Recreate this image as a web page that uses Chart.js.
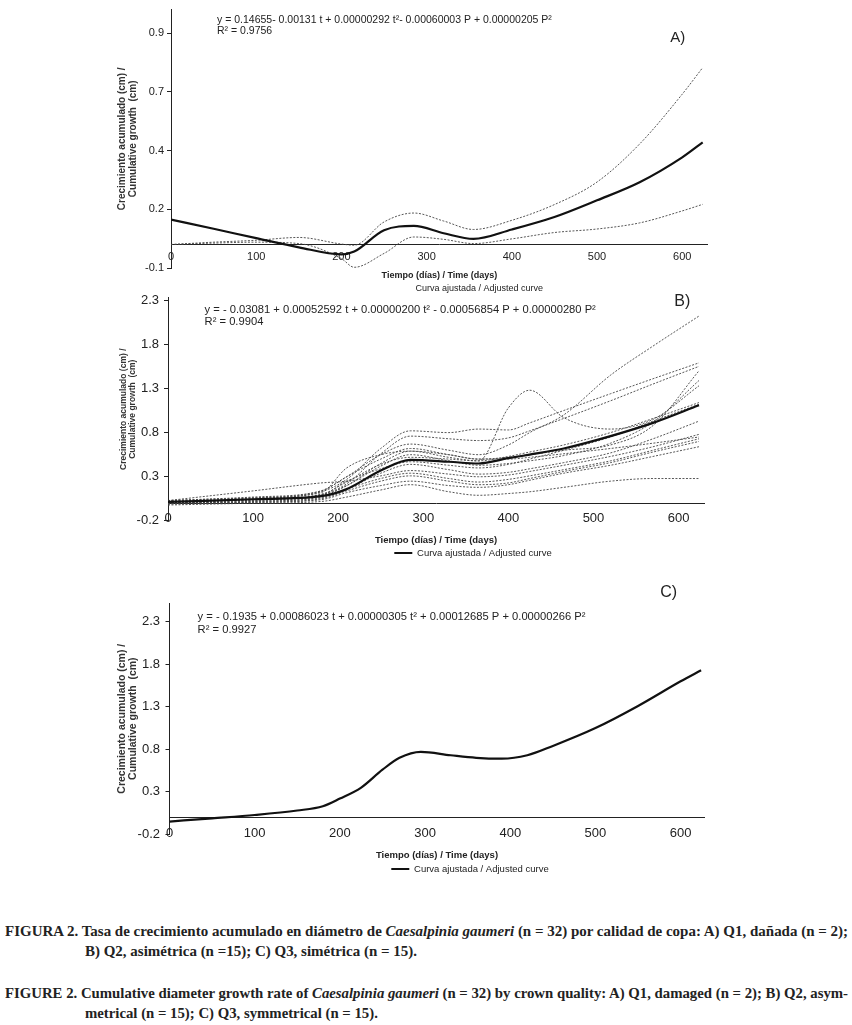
<!DOCTYPE html>
<html lang="es">
<head>
<meta charset="utf-8">
<title>Figura 2 - Caesalpinia gaumeri</title>
<script src="https://cdn.jsdelivr.net/npm/chart.js@4.4.1/dist/chart.umd.min.js"></script>
<style>
  html, body { margin: 0; padding: 0; background: #fff; }
  #figura { position: relative; width: 852px; height: 1025px; overflow: hidden; background: #fff; }
  #figura canvas { position: absolute; left: 0; }
  .pie { position: absolute; white-space: nowrap; font-family: "Liberation Serif", "DejaVu Serif", serif;
         font-weight: bold; font-size: 15px; line-height: 18px; color: #222; transform-origin: 0 50%; }
</style>
</head>
<body>
<div id="figura">
  <canvas id="graficaA" width="852" height="300"></canvas>
  <canvas id="graficaB" width="852" height="300"></canvas>
  <canvas id="graficaC" width="852" height="300"></canvas>
  <div class="pie" id="pie1" style="left:5px; top:922px">FIGURA 2. Tasa de crecimiento acumulado en diámetro de <i>Caesalpinia gaumeri</i> (n = 32) por calidad de copa: A) Q1, dañada (n = 2);</div>
  <div class="pie" id="pie2" style="left:85px; top:942px">B) Q2, asimétrica (n =15); C) Q3, simétrica (n = 15).</div>
  <div class="pie" id="pie3" style="left:5px; top:984px">FIGURE 2. Cumulative diameter growth rate of <i>Caesalpinia gaumeri</i> (n = 32) by crown quality: A) Q1, damaged (n = 2); B) Q2, asym-</div>
  <div class="pie" id="pie4" style="left:85px; top:1004px">metrical (n = 15); C) Q3, symmetrical (n = 15).</div>
</div>

<script>
// ---- Datos (días, crecimiento acumulado en cm) ----
const ticksX = [0, 100, 200, 300, 400, 500, 600];

// A) Q1, copa dañada (n = 2)
const diasA = [0, 50, 100, 150, 200, 215, 250, 285, 320, 355, 400, 450, 500, 550, 600, 624];
const ajustadaA = [0.106, 0.067, 0.027, -0.012, -0.042, -0.03, 0.061, 0.079, 0.048, 0.024, 0.064, 0.117, 0.188, 0.265, 0.371, 0.435];
const arbolA1 = [0.0, 0.01, 0.018, 0.03, 0.002, -0.003, 0.096, 0.134, 0.1, 0.064, 0.103, 0.17, 0.266, 0.428, 0.64, 0.753];
const arbolA2 = [0.0, 0.006, 0.01, 0.004, -0.06, -0.097, -0.038, 0.032, 0.022, 0.004, 0.024, 0.051, 0.066, 0.092, 0.143, 0.171];
const ticksYA = [-0.1, 0.15, 0.4, 0.65, 0.9];
const etiquetasYA = ['-0.1', '0.2', '0.4', '0.7', '0.9'];

// B) Q2, copa asimétrica (n = 15)
const diasB = [0, 100, 180, 210, 250, 285, 330, 365, 400, 425, 465, 520, 570, 624];
const ajustadaB = [0.015, 0.045, 0.08, 0.16, 0.37, 0.49, 0.47, 0.45, 0.51, 0.55, 0.62, 0.76, 0.91, 1.11];
const arbolB1 = [0.02, 0.06, 0.14, 0.30, 0.55, 0.67, 0.60, 0.55, 0.66, 0.80, 1.00, 1.45, 1.78, 2.12];
const arbolB2 = [0.01, 0.05, 0.13, 0.27, 0.62, 0.82, 0.80, 0.84, 0.83, 0.91, 1.05, 1.24, 1.41, 1.59];
const arbolB3 = [0.00, 0.04, 0.10, 0.22, 0.56, 0.76, 0.73, 0.71, 0.74, 0.82, 0.96, 1.16, 1.35, 1.55];
const arbolB4 = [0.02, 0.04, 0.09, 0.20, 0.45, 0.59, 0.52, 0.48, 1.08, 1.28, 0.97, 0.84, 0.95, 1.33];
const arbolB5 = [0.03, 0.07, 0.14, 0.30, 0.50, 0.62, 0.55, 0.50, 0.52, 0.55, 0.60, 0.66, 0.88, 1.50];
const arbolB6 = [0.00, 0.03, 0.08, 0.20, 0.42, 0.55, 0.48, 0.43, 0.45, 0.48, 0.54, 0.68, 0.92, 1.39];
const arbolB7 = [0.01, 0.04, 0.10, 0.24, 0.44, 0.52, 0.50, 0.48, 0.53, 0.58, 0.66, 0.80, 0.96, 1.14];
const arbolB8 = [0.00, 0.02, 0.07, 0.16, 0.34, 0.44, 0.38, 0.33, 0.35, 0.39, 0.46, 0.57, 0.73, 0.93];
const arbolB9 = [0.03, 0.14, 0.23, 0.25, 0.31, 0.37, 0.33, 0.30, 0.32, 0.36, 0.43, 0.53, 0.64, 0.78];
const arbolB10 = [0.00, 0.02, 0.06, 0.16, 0.28, 0.34, 0.28, 0.24, 0.27, 0.31, 0.38, 0.48, 0.60, 0.73];
const arbolB11 = [-0.01, 0.01, 0.05, 0.14, 0.25, 0.31, 0.25, 0.21, 0.23, 0.28, 0.36, 0.46, 0.58, 0.70];
const arbolB12 = [0.00, 0.01, 0.04, 0.12, 0.20, 0.25, 0.20, 0.18, 0.21, 0.26, 0.34, 0.43, 0.53, 0.64];
const arbolB13 = [-0.02, 0.00, 0.02, 0.07, 0.15, 0.21, 0.13, 0.09, 0.11, 0.13, 0.18, 0.25, 0.28, 0.28];
const arbolB14 = [0.01, 0.04, 0.09, 0.25, 0.39, 0.47, 0.43, 0.40, 0.44, 0.50, 0.60, 0.75, 0.93, 1.12];
const arbolB15 = [0.03, 0.06, 0.12, 0.40, 0.55, 0.59, 0.55, 0.50, 0.50, 0.52, 0.56, 0.62, 0.68, 0.75];
const arbolesB = [arbolB1, arbolB2, arbolB3, arbolB4, arbolB5, arbolB6, arbolB7, arbolB8,
                  arbolB9, arbolB10, arbolB11, arbolB12, arbolB13, arbolB14, arbolB15];

// C) Q3, copa simétrica (n = 15)
const diasC = [0, 50, 100, 150, 180, 200, 225, 250, 270, 295, 330, 360, 390, 420, 450, 500, 550, 600, 624];
const ajustadaC = [-0.05, -0.012, 0.027, 0.08, 0.13, 0.22, 0.35, 0.56, 0.70, 0.77, 0.73, 0.70, 0.69, 0.73, 0.84, 1.05, 1.31, 1.60, 1.73];

const ticksYBC = [-0.2, 0.3, 0.8, 1.3, 1.8, 2.3];
const etiquetasYBC = ['-0.2', '0.3', '0.8', '1.3', '1.8', '2.3'];

const LEYENDA = 'Curva ajustada / Adjusted curve';
const TITULO_Y = ['Crecimiento acumulado (cm) /', 'Cumulative growth  (cm)'];
const SANS = "'Liberation Sans', Arial, sans-serif";
const ESTRECHA = "'Liberation Sans Narrow', 'Liberation Sans', Arial, sans-serif";

// Textos sueltos dentro de cada panel (ecuación, R², letra del panel)
const textosPlugin = {
    id: 'textos',
    afterDraw(chart, args, opts) {
        const ctx = chart.ctx;
        const x = chart.scales.x, y = chart.scales.y;
        ctx.save();
        ctx.textBaseline = 'middle';
        ctx.textAlign = 'left';
        (opts.items || []).forEach(it => {
            ctx.font = it.font;
            ctx.fillStyle = '#222';
            ctx.fillText(it.text, x.getPixelForValue(it.x), y.getPixelForValue(it.y));
        });
        ctx.restore();
    }
};

function serie(dias, valores) {
    return dias.map((t, i) => ({ x: t, y: valores[i] }));
}

function curvaAjustada(dias, valores) {
    return { label: LEYENDA, data: serie(dias, valores), borderColor: '#111', backgroundColor: '#111', borderWidth: 2.2 };
}

function curvaArbol(dias, valores, n) {
    return { label: 'Árbol ' + n, data: serie(dias, valores), borderColor: '#444', borderWidth: 0.9, borderDash: [2, 1.5] };
}

// g: geometría del panel en píxeles de página (izquierda/derecha/arriba/abajo del área de trazado)
function crearPanel(idCanvas, g, datasets) {
    const canvas = document.getElementById(idCanvas);
    const altoLeyenda = g.leyendaFuente + g.leyendaPad + 10;
    const altoArea = g.abajo - g.arriba;
    const padArriba = g.arriba - g.top;
    const alto = Math.ceil(padArriba + altoArea + altoLeyenda);
    canvas.height = alto;
    canvas.style.top = g.top + 'px';

    // la leyenda se centra entre el relleno izquierdo y el borde derecho del lienzo
    const padIzq = 2 * g.centroLeyenda - canvas.width;
    const ceroPx = g.abajo - (0 - g.yMin) / (g.yMax - g.yMin) * altoArea;
    const lhTituloX = g.tituloXFuente * 1.2;
    const lhTituloY = g.tituloYFuente * g.tituloYInterlinea;

    new Chart(canvas, {
        type: 'line',
        data: { datasets: datasets },
        options: {
            responsive: false,
            animation: false,
            layout: { padding: { top: padArriba, left: padIzq, right: 0, bottom: alto - padArriba - altoArea - altoLeyenda } },
            elements: { point: { radius: 0 }, line: { cubicInterpolationMode: 'monotone' } },
            scales: {
                x: {
                    type: 'linear', min: 0, max: g.xMax,
                    position: { y: 0 },
                    afterBuildTicks: s => { s.ticks = ticksX.map(v => ({ value: v })); },
                    afterFit: s => { s.height = g.tituloX - ceroPx + lhTituloX / 2; },
                    grid: { display: false, drawTicks: false },
                    border: { display: true, color: '#222', width: 1 },
                    ticks: { padding: g.xTickPad, color: '#222', font: g.tickFuente, maxRotation: 0 },
                    title: { display: true, text: 'Tiempo (días) / Time (days)', color: '#222', padding: 0,
                             font: { family: ESTRECHA, size: g.tituloXFuente, weight: 'bold' } }
                },
                y: {
                    type: 'linear', min: g.yMin, max: g.yMax,
                    afterBuildTicks: s => { s.ticks = g.ticksY.map(v => ({ value: v })); },
                    afterFit: s => { s.width = g.izquierda - padIzq; },
                    grid: { display: true, drawOnChartArea: false, drawTicks: true, tickLength: 4, color: '#222' },
                    border: { display: true, color: '#222', width: 1 },
                    ticks: { padding: g.yTickPad, color: '#222', font: g.tickFuente, callback: (v, i) => g.etiquetasY[i] },
                    title: { display: true, text: TITULO_Y, color: '#333',
                             padding: { top: g.tituloYx - padIzq - lhTituloY / 2, bottom: 0 },
                             font: { family: SANS, size: g.tituloYFuente, weight: 'bold', lineHeight: g.tituloYInterlinea } }
                },
                // eje vacío a la derecha: deja el margen blanco del original
                margen: {
                    type: 'linear', position: 'right', display: true,
                    afterFit: s => { s.width = canvas.width - g.derecha; },
                    grid: { display: false }, border: { display: false }, ticks: { display: false }
                }
            },
            plugins: {
                legend: {
                    position: 'bottom',
                    labels: {
                        boxWidth: 18, boxHeight: 2, padding: g.leyendaPad, color: '#222',
                        font: { family: ESTRECHA, size: g.leyendaFuente },
                        filter: item => item.datasetIndex === 0,
                        generateLabels: chart => Chart.defaults.plugins.legend.labels.generateLabels(chart).map(l =>
                            Object.assign(l, { lineWidth: 0, fillStyle: g.muestra ? '#111' : 'rgba(0,0,0,0)' }))
                    }
                },
                tooltip: { enabled: false },
                textos: { items: g.textos }
            }
        },
        plugins: [textosPlugin]
    });
}

// Panel A
crearPanel('graficaA', {
    top: 0, izquierda: 171, derecha: 707.8, arriba: 8.4, abajo: 268,
    xMax: 630, yMin: -0.1, yMax: 1.0, ticksY: ticksYA, etiquetasY: etiquetasYA,
    tickFuente: { family: SANS, size: 11 }, xTickPad: 6, yTickPad: 3,
    tituloX: 275, tituloXFuente: 9,
    tituloYx: 122.5, tituloYFuente: 10, tituloYInterlinea: 1.1,
    centroLeyenda: 468, leyendaFuente: 9, leyendaPad: 16.5, muestra: false,
    textos: [
        { text: 'y = 0.14655- 0.00131 t + 0.00000292 t²- 0.00060003 P + 0.00000205 P²', x: 54, y: 0.955, font: '10.5px ' + SANS },
        { text: 'R² = 0.9756', x: 54, y: 0.908, font: '10.5px ' + SANS },
        { text: 'A)', x: 586, y: 0.879, font: '15px ' + SANS }
    ]
}, [curvaAjustada(diasA, ajustadaA), curvaArbol(diasA, arbolA1, 1), curvaArbol(diasA, arbolA2, 2)]);

// Panel B
crearPanel('graficaB', {
    top: 280, izquierda: 168, derecha: 704.1, arriba: 297.5, abajo: 520.9,
    xMax: 630, yMin: -0.2, yMax: 2.33, ticksY: ticksYBC, etiquetasY: etiquetasYBC,
    tickFuente: { family: ESTRECHA, size: 13 }, xTickPad: 7, yTickPad: 5,
    tituloX: 540, tituloXFuente: 9.5,
    tituloYx: 123.5, tituloYFuente: 8.5, tituloYInterlinea: 1.1,
    centroLeyenda: 473, leyendaFuente: 9.5, leyendaPad: 27.3, muestra: true,
    textos: [
        { text: 'y = - 0.03081 + 0.00052592 t + 0.00000200 t² - 0.00056854 P + 0.00000280 P²', x: 43, y: 2.19, font: '11.2px ' + ESTRECHA },
        { text: 'R² = 0.9904', x: 43, y: 2.05, font: '11.2px ' + ESTRECHA },
        { text: 'B)', x: 595, y: 2.28, font: '16px ' + ESTRECHA }
    ]
}, [curvaAjustada(diasB, ajustadaB)].concat(arbolesB.map((v, i) => curvaArbol(diasB, v, i + 1))));

// Panel C
crearPanel('graficaC', {
    top: 575, izquierda: 169.5, derecha: 704.5, arriba: 603.1, abajo: 834.3,
    xMax: 628, yMin: -0.2, yMax: 2.52, ticksY: ticksYBC, etiquetasY: etiquetasYBC,
    tickFuente: { family: ESTRECHA, size: 13 }, xTickPad: 8, yTickPad: 5.5,
    tituloX: 855, tituloXFuente: 9.5,
    tituloYx: 122, tituloYFuente: 10.5, tituloYInterlinea: 1.05,
    centroLeyenda: 470, leyendaFuente: 9.5, leyendaPad: 29.9, muestra: true,
    textos: [
        { text: 'y = - 0.1935 + 0.00086023 t + 0.00000305 t² + 0.00012685 P + 0.00000266 P²', x: 33, y: 2.36, font: '11.2px ' + ESTRECHA },
        { text: 'R² = 0.9927', x: 33, y: 2.21, font: '11.2px ' + ESTRECHA },
        { text: 'C)', x: 576, y: 2.64, font: '16px ' + ESTRECHA }
    ]
}, [curvaAjustada(diasC, ajustadaC)]);

// Pie de figura: se estrecha para ocupar el ancho justificado del original
function ajustarPie(idLinea, ancho, idSegunda) {
    const el = document.getElementById(idLinea);
    const escala = ancho / el.getBoundingClientRect().width;
    el.style.transform = 'scaleX(' + escala + ')';
    document.getElementById(idSegunda).style.transform = 'scaleX(' + escala + ')';
}
ajustarPie('pie1', 843, 'pie2');
ajustarPie('pie3', 843, 'pie4');
</script>
</body>
</html>
